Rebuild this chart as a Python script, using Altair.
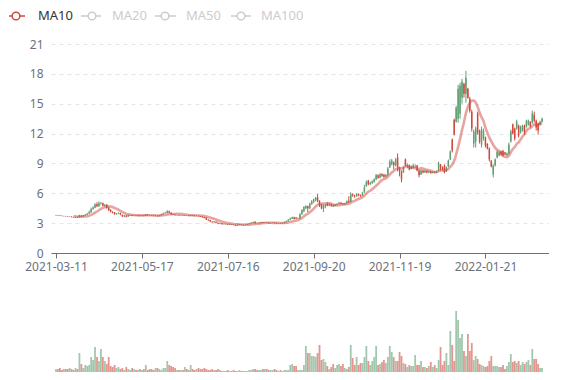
import altair as alt
import pandas as pd

# ---------------- data ----------------
tick_labels = ["2021-03-11", "2021-05-17", "2021-07-16", "2021-09-20", "2021-11-19", "2022-01-21"]
tick_index = [0, 44, 88, 132, 176, 220]
legend_names = ["MA10", "MA20", "MA50", "MA100"]

opens = [
3.76,3.80,3.77,3.74,3.70,3.71,3.69,3.64,3.66,3.61,
3.58,3.62,3.60,3.74,3.66,3.78,3.86,3.96,4.10,4.42,
4.55,4.90,4.70,4.98,5.00,4.75,4.85,4.55,4.32,4.12,
4.08,3.90,3.95,4.00,3.82,3.68,3.76,3.66,3.80,3.82,
3.78,3.80,3.78,3.82,3.76,3.80,3.74,3.86,3.80,3.78,
3.76,3.72,3.75,3.70,3.78,3.90,4.00,4.02,4.20,4.05,
3.90,3.85,3.80,3.82,3.78,3.80,3.76,3.80,3.79,3.75,
3.80,3.76,3.72,3.74,3.70,3.66,3.60,3.55,3.36,3.32,
3.15,3.08,3.15,3.03,2.94,3.00,2.90,2.93,2.88,2.85,
2.90,2.86,2.82,2.78,2.85,2.88,2.82,2.80,2.84,2.90,
2.96,3.05,3.14,3.00,2.98,3.05,3.08,3.02,3.06,3.04,
3.00,3.02,3.05,3.00,2.98,3.00,2.97,3.02,3.10,3.20,
3.34,3.45,3.58,3.55,3.46,3.48,3.90,4.20,4.50,4.70,
4.50,4.90,5.15,5.30,5.60,5.25,4.85,4.45,4.65,4.92,
4.75,4.90,4.80,4.72,4.85,4.95,5.05,4.98,4.90,5.00,
5.25,5.15,5.90,5.75,5.70,5.92,5.82,5.78,6.10,6.70,
7.25,6.90,7.00,7.15,7.40,7.80,7.55,7.95,7.85,7.65,
7.85,8.60,8.90,9.10,8.80,9.60,8.60,8.20,8.10,9.40,
8.70,8.80,8.45,8.55,8.70,8.80,8.30,7.90,8.30,8.10,
8.25,8.10,8.20,8.05,8.15,8.10,8.30,8.90,8.60,8.80,
8.20,8.70,9.40,11.40,13.40,13.20,13.50,14.00,15.60,17.00,
16.00,16.50,15.50,14.20,11.00,11.20,14.00,12.30,10.90,11.50,
11.60,11.00,10.50,9.30,7.90,8.80,9.60,9.80,10.20,10.30,
10.10,9.80,10.00,11.20,12.90,12.50,12.50,12.80,12.10,12.30,
12.80,12.70,12.90,13.20,13.10,13.90,13.30,13.00,12.90,13.20,
]

closes = [
3.80,3.77,3.74,3.72,3.71,3.69,3.66,3.66,3.61,3.58,
3.62,3.60,3.74,3.66,3.78,3.86,3.96,4.12,4.42,4.58,
4.88,4.70,5.00,5.02,4.75,4.82,4.52,4.30,4.15,4.06,
3.90,3.96,4.00,3.85,3.70,3.76,3.65,3.80,3.82,3.78,
3.80,3.78,3.82,3.76,3.80,3.74,3.86,3.80,3.78,3.76,
3.72,3.75,3.70,3.78,3.90,4.00,4.05,4.20,4.05,3.90,
3.85,3.80,3.82,3.78,3.80,3.76,3.80,3.79,3.75,3.80,
3.76,3.72,3.74,3.70,3.66,3.60,3.52,3.38,3.30,3.18,
3.10,3.16,3.04,2.95,3.00,2.90,2.93,2.88,2.85,2.90,
2.86,2.82,2.78,2.85,2.88,2.82,2.80,2.84,2.90,2.96,
3.05,3.12,3.00,2.98,3.05,3.08,3.02,3.06,3.04,3.00,
3.02,3.05,3.00,2.98,3.00,2.97,3.02,3.10,3.20,3.34,
3.46,3.58,3.42,3.46,3.50,3.90,4.30,4.62,4.72,4.50,
4.95,5.20,5.40,5.55,5.20,4.80,4.50,4.80,4.85,4.75,
4.92,4.75,4.70,4.85,4.95,5.05,4.95,4.90,5.00,5.20,
5.10,5.90,5.78,5.70,5.92,5.80,5.75,6.05,6.60,7.10,
6.90,7.05,7.20,7.40,7.80,7.55,7.90,7.75,7.65,7.85,
8.50,9.20,9.30,8.85,9.40,8.60,8.20,7.40,8.60,8.80,
8.85,8.40,8.70,8.80,8.75,8.30,7.80,8.30,8.10,8.25,
8.10,8.20,8.05,8.15,8.10,8.20,9.00,8.60,8.40,8.10,
8.60,9.30,10.20,10.30,11.90,14.60,16.50,16.80,17.20,16.00,
17.60,15.60,14.30,12.50,12.20,12.50,12.10,11.20,12.40,12.30,
10.80,10.50,9.40,8.70,8.80,9.40,10.20,10.10,9.90,9.80,
9.90,10.00,10.90,12.20,12.00,11.50,13.20,11.80,12.70,12.80,
12.10,13.30,13.30,12.70,14.00,13.30,12.60,12.30,13.20,13.50,
]

highs = [
3.83,3.82,3.79,3.76,3.74,3.73,3.71,3.69,3.68,3.63,
3.65,3.66,3.85,3.78,3.82,3.92,4.02,4.25,4.55,4.70,
5.00,5.10,5.20,5.12,5.08,4.92,4.90,4.62,4.40,4.20,
4.12,4.02,4.08,4.04,3.86,3.82,3.80,3.84,3.86,3.85,
3.83,3.82,3.85,3.84,3.83,3.82,3.92,3.88,3.82,3.80,
3.78,3.78,3.77,3.81,3.95,4.05,4.12,4.30,4.25,4.08,
3.93,3.88,3.85,3.84,3.83,3.82,3.84,3.82,3.81,3.86,
3.82,3.78,3.77,3.76,3.72,3.68,3.62,3.58,3.40,3.35,
3.20,3.20,3.18,3.06,3.04,3.02,2.96,2.95,2.90,2.93,
2.92,2.88,2.84,2.88,2.91,2.90,2.85,2.87,2.94,3.02,
3.10,3.16,3.18,3.03,3.08,3.14,3.10,3.09,3.08,3.06,
3.05,3.08,3.07,3.02,3.03,3.02,3.05,3.14,3.25,3.40,
3.55,3.65,3.64,3.62,3.55,4.00,4.40,4.70,4.80,4.75,
5.05,5.30,5.45,5.62,5.92,5.30,4.95,4.88,4.90,5.10,
5.00,4.95,4.85,4.92,5.00,5.15,5.10,5.02,5.05,5.28,
5.70,6.10,6.00,5.85,6.00,5.98,5.88,6.15,6.85,7.30,
7.35,7.15,7.30,7.50,7.95,7.90,8.05,8.00,7.95,7.92,
8.65,9.40,9.45,9.20,9.55,10.00,8.65,8.30,8.70,9.50,
9.00,8.90,8.80,8.95,8.90,8.85,8.40,8.40,8.35,8.35,
8.30,8.28,8.25,8.22,8.20,8.28,9.20,8.95,8.70,8.90,
8.70,9.40,10.30,11.50,13.50,14.80,16.90,17.10,17.50,17.10,
18.30,16.60,15.70,14.40,12.40,12.70,14.20,12.40,12.70,12.50,
11.70,11.00,10.60,9.30,8.90,9.50,10.30,10.20,10.30,10.30,
10.15,10.10,11.10,12.40,13.00,12.60,13.40,12.90,12.80,12.90,
12.90,13.40,13.40,13.20,14.30,14.20,13.40,13.10,13.30,13.60,
]

lows = [
3.74,3.75,3.72,3.69,3.68,3.67,3.64,3.62,3.58,3.55,
3.55,3.52,3.58,3.62,3.64,3.75,3.82,3.92,4.05,4.35,
4.50,4.62,4.65,4.85,4.70,4.66,4.45,4.22,4.08,3.98,
3.85,3.86,3.90,3.80,3.62,3.60,3.58,3.62,3.76,3.74,
3.75,3.75,3.76,3.74,3.74,3.72,3.72,3.78,3.75,3.73,
3.70,3.70,3.67,3.68,3.76,3.88,3.96,3.98,4.00,3.86,
3.82,3.77,3.78,3.76,3.76,3.74,3.74,3.76,3.72,3.72,
3.74,3.70,3.70,3.67,3.62,3.56,3.48,3.32,3.24,3.10,
3.04,3.05,3.00,2.90,2.92,2.86,2.87,2.85,2.82,2.83,
2.84,2.79,2.72,2.76,2.82,2.80,2.77,2.78,2.82,2.88,
2.94,3.02,2.96,2.95,2.96,3.02,3.00,3.00,3.01,2.97,
2.98,3.00,2.97,2.95,2.96,2.94,2.95,3.00,3.08,3.18,
3.30,3.42,3.38,3.40,3.42,3.45,3.85,4.10,4.40,4.10,
4.40,4.85,5.00,5.20,5.10,4.62,4.40,4.12,4.50,4.70,
4.70,4.65,4.62,4.68,4.80,4.90,4.88,4.85,4.86,4.95,
5.05,5.10,5.65,5.55,5.65,5.70,5.65,5.75,6.05,6.65,
6.80,6.85,6.95,7.05,7.30,7.45,7.50,7.65,7.55,7.60,
7.75,8.55,8.80,8.40,8.70,8.20,7.70,7.10,8.05,8.70,
8.50,8.30,8.40,8.50,8.55,8.20,7.60,7.85,8.00,8.05,
8.00,8.02,7.95,8.00,8.00,8.05,8.25,8.30,8.30,8.00,
8.15,8.65,9.35,10.10,11.80,13.10,13.10,13.50,15.00,15.60,
15.10,15.50,14.10,12.20,10.60,10.60,11.90,11.00,10.60,11.30,
10.60,10.40,9.20,8.60,7.60,8.70,9.50,9.70,9.80,9.70,
9.85,9.75,9.90,11.10,11.90,11.30,12.40,11.60,12.00,12.20,
11.90,12.60,12.80,12.60,13.00,13.10,12.30,11.90,12.80,13.10,
]

volumes = [
3,3,4,2,3,3,3,4,3,2,
4,3,19,8,4,7,6,7,15,12,
25,15,11,23,15,11,8,15,6,5,
7,4,5,3,4,2,5,3,2,4,
3,2,2,3,2,3,7,2,3,3,
2,4,4,3,2,4,4,11,7,6,
5,4,2,2,2,2,5,3,2,7,
3,2,3,4,3,3,4,3,2,2,
3,2,2,3,2,1,1,1,2,1,
1,2,1,1,2,1,1,1,1,2,
2,3,3,2,2,2,3,3,3,2,
2,2,3,2,1,2,1,2,2,2,
7,8,6,6,2,2,2,7,26,19,
19,16,16,15,19,27,12,13,10,6,
3,5,8,4,7,8,6,8,4,3,
5,27,14,7,15,7,9,9,15,26,
11,7,11,15,26,7,8,10,12,9,
15,26,20,15,11,11,20,16,9,8,
5,7,6,6,17,7,7,11,5,5,
4,6,10,5,7,4,12,25,7,11,
19,7,41,27,11,61,52,34,38,21,
16,38,21,29,12,16,13,8,7,6,
5,6,11,16,6,6,6,5,5,7,
3,6,10,18,10,11,9,11,7,10,
8,10,12,7,23,13,13,8,4,4,
]

# ---------------- chart ----------------
RED = "#d14a3d"
GREEN = "#5f9f73"
AXIS = "#6E7079"
FONT = "Noto Sans"

df = pd.DataFrame({
    "i": list(range(len(closes))),
    "open": opens, "close": closes, "high": highs, "low": lows, "vol": volumes,
})

xs = alt.Scale(domain=[0, 250], nice=False, zero=False)
label_expr = "[" + ",".join(f"'{t}'" for t in tick_labels) + "][indexof([" + \
    ",".join(str(v) for v in tick_index) + "], datum.value)]"

x_axis = alt.Axis(values=tick_index, labelExpr=label_expr, grid=False, title=None,
                  domainColor=AXIS, tickColor=AXIS, tickSize=5, labelColor=AXIS,
                  labelFontSize=12, labelPadding=3, labelFlush=False, labelOverlap=False,
                  labelFont=FONT)
y_axis = alt.Axis(values=[0, 3, 6, 9, 12, 15, 18, 21], grid=True, gridDash=[4, 4],
                  gridColor="#E0E6F1", domain=False, ticks=False, labelPadding=8,
                  labelColor=AXIS, labelFontSize=12, title=None, labelFont=FONT,
                  labelOverlap=False, labelFlush=False)
ys = alt.Scale(domain=[0, 21], nice=False, zero=True)

X = alt.X("i:Q", scale=xs, axis=x_axis)

color = alt.Color("dir:N", scale=alt.Scale(domain=["up", "down"], range=[GREEN, RED]), legend=None)

base = alt.Chart(df).transform_calculate(dir="datum.close >= datum.open ? 'up' : 'down'")

wick = base.mark_rule(strokeWidth=1).encode(
    x=X, y=alt.Y("low:Q", scale=ys, axis=y_axis), y2="high:Q", color=color,
)
body = base.mark_bar(size=1.5).encode(
    x=X, y=alt.Y("open:Q", scale=ys, axis=y_axis), y2="close:Q", color=color
)
ma = alt.Chart(df).transform_window(
    ma="mean(close)", frame=[-9, 0], sort=[alt.SortField("i")]
).transform_filter("datum.i >= 9").mark_line(
    color=RED, strokeWidth=2.6, opacity=0.5, interpolate="monotone"
).encode(x=X, y=alt.Y("ma:Q", scale=ys, axis=y_axis))

# legend drawn by hand (ECharts style)
one = pd.DataFrame({"k": [0]})
leg_layers = []
leg_pos = [(-42, -26, -35, -13), (30, 50, 41, 61), (104, 125, 114, 135), (180, 200, 190, 210)]
LY = -28
for n, (name, (x1, x2, cx, tx)) in enumerate(zip(legend_names, leg_pos)):
    c = RED if n == 0 else "#cccccc"
    tc = "#333333" if n == 0 else "#cccccc"
    leg_layers.append(alt.Chart(one).mark_rule(color=c, strokeWidth=1.5).encode(
        x=alt.value(x1), x2=alt.value(x2), y=alt.value(LY)))
    leg_layers.append(alt.Chart(one).mark_point(
        shape="circle", size=60, fill="white", stroke=c, strokeWidth=1.5, opacity=1, filled=True
    ).encode(x=alt.value(cx), y=alt.value(LY)))
    leg_layers.append(alt.Chart(one).mark_text(
        text=name, align="left", baseline="middle", fontSize=13, color=tc, font=FONT
    ).encode(x=alt.value(tx), y=alt.value(LY)))

price = alt.layer(wick, body, ma, *leg_layers).properties(width=498, height=209)

vol = base.mark_bar(size=1.8, opacity=0.58).encode(
    x=alt.X("i:Q", scale=xs, axis=alt.Axis(labels=False, ticks=False, grid=False, title=None,
                                            domainColor=AXIS)),
    y=alt.Y("vol:Q", scale=alt.Scale(domain=[0, 61], nice=False), axis=None),
    color=color,
).properties(width=498, height=61)

chart = alt.vconcat(
    price, vol, spacing=58, bounds="flush",
    padding={"top": 1, "left": 0, "right": 0, "bottom": 0},
).configure(background="white", view=alt.ViewConfig(stroke=None))

chart.save("out.html", embed_options={"renderer": "svg", "actions": False})
